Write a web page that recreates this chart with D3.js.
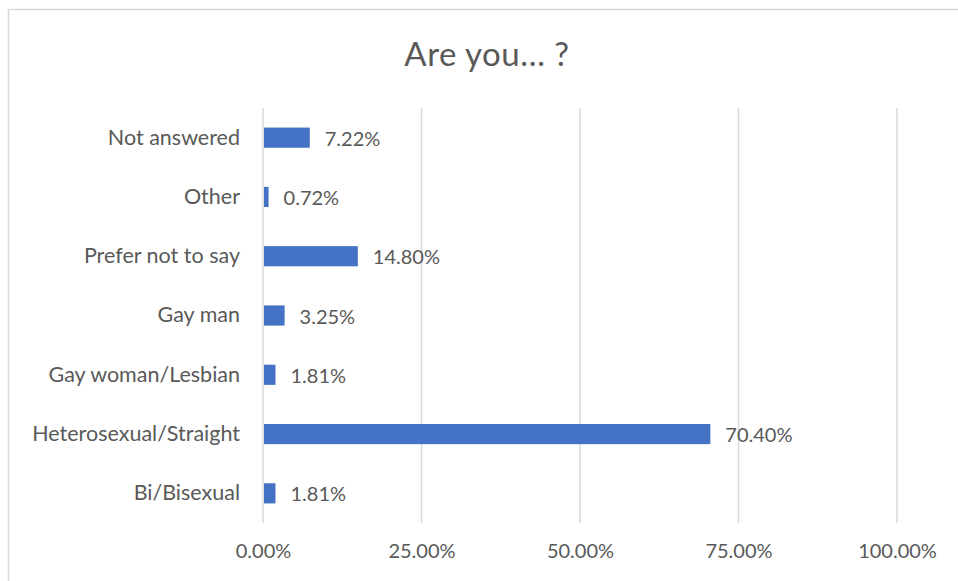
<!DOCTYPE html>
<html>
<head>
<meta charset="utf-8">
<script src="https://cdn.jsdelivr.net/npm/d3@7"></script>
<style>
  body { margin: 0; background: #fff; }
  text { font-family: Lato, "Open Sans", sans-serif; fill: #595959; }
</style>
</head>
<body>
<div id="chart"></div>
<script>
var categories = ["Not answered", "Other", "Prefer not to say", "Gay man", "Gay woman/Lesbian", "Heterosexual/Straight", "Bi/Bisexual"];
var values = [7.22, 0.72, 14.80, 3.25, 1.81, 70.40, 1.81];
var ticks = [0, 25, 50, 75, 100];
var title = "Are you\u2026 ?";

var W = 958, H = 581;
var margin = {top: 108, right: 61, bottom: 58, left: 263};
var width = W - margin.left - margin.right;
var height = H - margin.top - margin.bottom;

var svg = d3.select("#chart").append("svg")
    .attr("width", W)
    .attr("height", H);

// chart border (runs off the page on right/bottom like the source)
svg.append("rect")
    .attr("x", 8.5).attr("y", 9.5)
    .attr("width", W + 10).attr("height", H + 10)
    .attr("fill", "none")
    .attr("stroke", "#d9d9d9")
    .attr("stroke-width", 1.5);

svg.append("text")
    .attr("x", 487).attr("y", 66)
    .attr("text-anchor", "middle")
    .style("font-size", "33px")
    .style("letter-spacing", "0.5px")
    .text(title);

var g = svg.append("g")
    .attr("transform", "translate(" + margin.left + "," + margin.top + ")");

var x = d3.scaleLinear().domain([0, 100]).range([0, width]);
var y = d3.scaleBand().domain(categories).range([0, height]).paddingInner(0.66).paddingOuter(0.33);

// gridlines
g.append("g").selectAll("line")
    .data(ticks)
    .join("line")
    .attr("x1", d => x(d)).attr("x2", d => x(d))
    .attr("y1", 0).attr("y2", height)
    .attr("stroke", "#d9d9d9")
    .attr("stroke-width", 1.5);

// x axis labels
var xAxis = g.append("g")
    .attr("transform", "translate(0," + height + ")")
    .call(d3.axisBottom(x).tickValues(ticks).tickSize(0).tickPadding(21).tickFormat(d => d.toFixed(2) + "%"));
xAxis.select(".domain").remove();
xAxis.selectAll("text").style("font-size", "20px").attr("fill", "#595959");

// y axis labels
var yAxis = g.append("g")
    .call(d3.axisLeft(y).tickSize(0).tickPadding(23));
yAxis.select(".domain").remove();
yAxis.selectAll("text").style("font-size", "21.5px").attr("fill", "#595959");

// bars
g.append("g").selectAll("rect")
    .data(values)
    .join("rect")
    .attr("x", x(0) + 1)
    .attr("y", (d, i) => y(categories[i]))
    .attr("width", d => x(d) - x(0))
    .attr("height", y.bandwidth())
    .attr("fill", "#4472c4");

// value labels
g.append("g").selectAll("text")
    .data(values)
    .join("text")
    .attr("x", d => x(d) + 16)
    .attr("y", (d, i) => y(categories[i]) + y.bandwidth() / 2)
    .attr("dy", "0.4em")
    .style("font-size", "20px")
    .text(d => d.toFixed(2) + "%");
</script>
</body>
</html>
